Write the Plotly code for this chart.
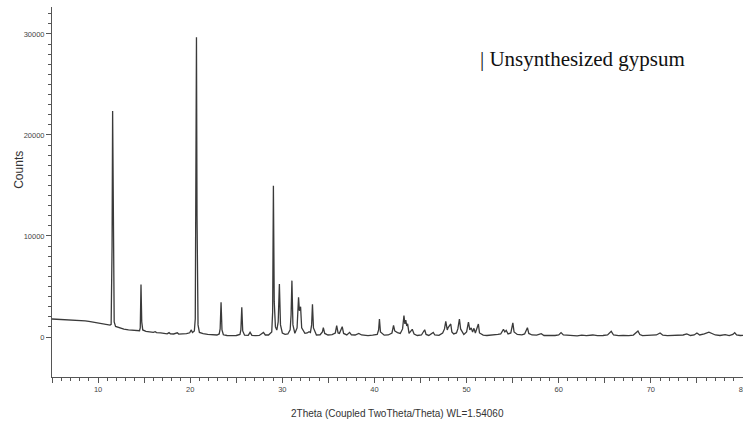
import plotly.graph_objects as go

two_theta = [
    5.0, 5.4, 5.8, 6.2, 6.6, 7.0, 7.3, 7.6, 8.0, 8.3, 8.6, 9.0, 9.4, 9.8, 10.2, 10.6, 11.0, 11.3,
    11.42, 11.52, 11.58, 11.64, 11.75, 11.9,
    12.3, 12.8, 13.3, 13.8, 14.3, 14.5,
    14.58, 14.66, 14.74, 14.85,
    15.2, 15.6, 16.0, 16.2, 16.35, 16.8, 17.2, 17.5, 17.7, 17.85, 18.2, 18.6, 18.75, 19.2, 19.6,
    19.95, 20.1, 20.25, 20.45,
    20.55, 20.63, 20.68, 20.74, 20.85, 21.0,
    21.4, 21.9, 22.4, 22.9, 23.15,
    23.25, 23.35, 23.45, 23.6,
    24.0, 24.5, 25.0, 25.4,
    25.5, 25.6, 25.7, 25.9,
    26.3, 26.5, 26.7, 27.1, 27.5, 27.95, 28.15, 28.5, 28.85,
    28.95, 29.03, 29.12, 29.25, 29.4, 29.55,
    29.68, 29.8, 30.0, 30.3, 30.6, 30.85,
    30.95, 31.04, 31.15, 31.36, 31.6,
    31.7, 31.76, 31.85, 31.98, 32.1, 32.45, 32.7, 32.9, 33.05, 33.18,
    33.27, 33.38, 33.7, 34.1, 34.35, 34.45, 34.6, 34.96, 35.4, 35.75, 35.9, 36.05, 36.2, 36.5,
    36.65, 37.0, 37.3, 37.5, 37.9, 38.3, 38.6, 39.0, 39.3, 39.8, 40.3, 40.45, 40.54, 40.65,
    41.06, 41.5, 41.9, 42.07, 42.2, 42.5, 42.8, 43.05, 43.2, 43.3, 43.4, 43.5, 43.6, 43.75,
    44.1, 44.3, 44.65, 45.1, 45.45, 45.6, 45.9, 46.38, 46.55, 47.0, 47.4, 47.6, 47.74, 47.9,
    47.98, 48.28, 48.4, 48.6, 48.9, 49.05, 49.22, 49.35, 49.7, 50.0, 50.2, 50.35, 50.5, 50.65,
    50.8, 50.95, 51.28, 51.4, 51.8, 52.2, 52.6, 53.0, 53.4, 53.7, 54.0, 54.15, 54.3, 54.5,
    54.8, 55.02, 55.15, 55.5, 56.0, 56.3, 56.6, 56.75, 57.1, 57.6, 58.1, 58.4, 59.0, 59.6,
    60.0, 60.25, 60.5, 61.0, 61.5, 62.0, 62.5, 63.0, 63.7, 64.2, 64.8, 65.3, 65.7, 65.95,
    66.5, 67.0, 67.6, 68.1, 68.6, 68.8, 69.1, 69.6, 70.2, 70.6, 71.0, 71.3, 71.8, 72.5,
    73.0, 73.5, 73.9, 74.3, 74.7, 75.0, 75.3, 75.8, 76.3, 76.6, 77.0, 77.5, 78.06, 78.5,
    78.9, 79.1, 79.3, 79.7, 80.0,
]
counts = [
    1780, 1760, 1790, 1740, 1760, 1720, 1690, 1710, 1650, 1670, 1600, 1540, 1480, 1400, 1330, 1270, 1210, 1180,
    1250, 9000, 22380, 9000, 1500, 1050,
    900, 780, 700, 650, 600, 620,
    900, 5200, 1500, 700,
    560, 500, 450, 520, 440, 400, 330, 320, 430, 320, 300, 420, 290, 300, 340,
    420, 700, 450, 600,
    1800, 14000, 29670, 12000, 1200, 450,
    330, 260, 220, 200, 300,
    800, 3430, 700, 220,
    150, 140, 150, 250,
    700, 2940, 600, 180,
    160, 460, 170, 140, 150, 450, 200, 200, 500,
    2500, 14980, 3500, 1000, 690, 1500,
    5250, 1200, 400, 260, 300, 700,
    2200, 5580, 1200, 360, 900,
    2500, 3930, 2600, 3000, 900, 360, 400, 530, 450, 1200,
    3230, 900, 200, 220, 500, 920, 350, 200, 230, 400, 1120, 400, 360, 1020,
    350, 210, 460, 220, 200, 360, 200, 150, 130, 180, 250, 700, 1780, 500,
    180, 200, 400, 1150, 600, 430, 350, 800, 2110, 1300, 1680, 1100, 1300, 350,
    760, 300, 150, 200, 720, 250, 150, 450, 200, 160, 400, 800, 1550, 700,
    900, 1290, 500, 300, 400, 800, 1780, 800, 250, 500, 1480, 700, 900, 500,
    860, 400, 1290, 400, 180, 150, 160, 200, 250, 300, 760, 500, 650, 300,
    400, 1400, 500, 250, 220, 300, 920, 350, 200, 180, 330, 150, 130, 150,
    200, 430, 200, 150, 170, 120, 180, 140, 200, 130, 150, 200, 560, 200,
    130, 170, 140, 190, 590, 250, 130, 170, 160, 200, 400, 180, 140, 180,
    140, 200, 300, 150, 200, 400, 200, 300, 480, 350, 200, 150, 230, 130,
    250, 430, 200, 150, 160,
]

x_major_ticks = [5, 10, 15, 20, 25, 30, 35, 40, 45, 50, 55, 60, 65, 70, 75, 80]
x_major_text = ["", "10", "", "20", "", "30", "", "40", "", "50", "", "60", "", "70", "", "80"]
y_major_ticks = [0, 10000, 20000, 30000]
y_minor_ticks = [v for v in range(1000, 33000, 1000) if v not in (10000, 20000, 30000)]

fig = go.Figure()
fig.add_trace(go.Scatter(
    x=two_theta, y=counts, mode="lines",
    line=dict(color="#3a3a3a", width=1.3),
    showlegend=False, hoverinfo="skip",
))

tick_font = dict(family="Liberation Sans, Arial, sans-serif", size=7.5, color="#444444")

fig.update_layout(
    template="none",
    width=743, height=428,
    margin=dict(l=52, r=0, t=7, b=51),
    paper_bgcolor="white", plot_bgcolor="white",
    xaxis=dict(
        range=[5, 80], automargin=False,
        showline=True, linecolor="#555555", linewidth=1,
        showgrid=False, zeroline=False,
        tickmode="array", tickvals=x_major_ticks, ticktext=x_major_text,
        ticks="outside", ticklen=5, tickcolor="#555555", tickwidth=1,
        tickfont=tick_font, ticklabeloverflow="allow",
        minor=dict(dtick=1, tick0=5, ticks="outside", ticklen=3, tickcolor="#555555", showgrid=False),
    ),
    yaxis=dict(
        range=[-3960, 32670], automargin=False,
        showline=True, linecolor="#555555", linewidth=1,
        showgrid=False, zeroline=False,
        tickmode="array", tickvals=y_major_ticks,
        ticktext=[str(v) for v in y_major_ticks],
        ticks="outside", ticklen=5, tickcolor="#555555", tickwidth=1,
        tickfont=tick_font,
        minor=dict(tickmode="array", tickvals=y_minor_ticks, ticks="outside", ticklen=3,
                   tickcolor="#555555", showgrid=False),
    ),
    annotations=[
        dict(text="2Theta (Coupled TwoTheta/Theta) WL=1.54060", xref="paper", yref="paper",
             x=0.5, y=0, yshift=-36, xanchor="center", yanchor="middle", showarrow=False,
             font=dict(family="Liberation Sans, Arial, sans-serif", size=10, color="#333333")),
        dict(text="Counts", xref="paper", yref="paper", x=0, xshift=-33, y=0.56,
             xanchor="center", yanchor="middle", textangle=-90, showarrow=False,
             font=dict(family="Liberation Sans, Arial, sans-serif", size=12, color="#333333")),
        dict(text="| Unsynthesized gypsum", xref="paper", yref="paper", x=0.617, y=0.859,
             xanchor="left", yanchor="middle", showarrow=False,
             font=dict(family="Liberation Serif, Times New Roman, serif", size=21, color="#111111")),
    ],
)

fig.write_html("out.html")
